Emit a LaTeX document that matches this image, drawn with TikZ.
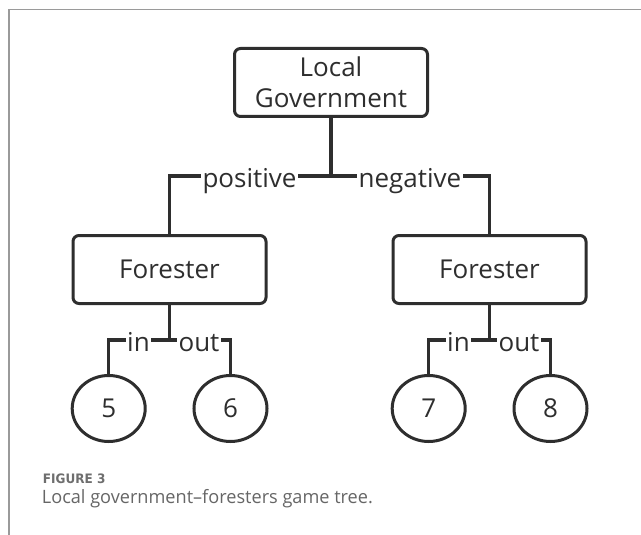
\documentclass[tikz,border=0pt]{standalone}
\usepackage{fontspec}
\usepackage{graphicx}
\setmainfont{Open Sans}
\newfontfamily\figfont{DejaVu Sans}
\usetikzlibrary{shapes.geometric}
\definecolor{ink}{HTML}{2E2E2E}
\definecolor{framegray}{HTML}{9A9A9A}
\definecolor{capgray}{HTML}{6E6E6E}
\definecolor{captext}{HTML}{666666}
\begin{document}
\begin{tikzpicture}[x=1pt,y=-1pt,
  box/.style={draw=ink, line width=3pt, rounded corners=6pt, minimum width=193pt, minimum height=68pt, align=center, text=ink, font=\fontsize{26}{31.3}\selectfont, inner sep=0pt},
  leaf/.style={draw=ink, line width=3pt, ellipse, minimum width=73pt, minimum height=66pt, inner sep=0pt, text=ink, font=\fontsize{26}{31}\selectfont},
  wire/.style={draw=ink, line width=3.3pt},
  lbl/.style={fill=white, inner sep=1.5pt, text=ink, font=\fontsize{26}{31}\selectfont, anchor=base},
  capA/.style={anchor=base west, inner sep=0pt, text=capgray},
  capB/.style={anchor=base west, inner sep=0pt, text=captext}
]
\useasboundingbox (0,0) rectangle (641,535);
\fill[white] (0,0) rectangle (641,535);
% frame
\draw[framegray, line width=1.8pt] (9,535) -- (9,9.5) -- (641,9.5);

% nodes
\node[box] (gov) at (331,82.5) {Local\\Government};
\node[box] (f1) at (169.5,269.5) {Forester};
\node[box] (f2) at (489.5,269.5) {Forester};
\node[leaf] (c5) at (108.7,408.5) {5};
\node[leaf] (c6) at (230.5,408.5) {6};
\node[leaf] (c7) at (428.7,408.5) {7};
\node[leaf] (c8) at (550.5,408.5) {8};

% junction levels
\coordinate (h1) at (0,176);
\coordinate (h2) at (0,340);
\coordinate (h3) at (0,340);

% connectors
\draw[wire] (gov.south) -- (gov.south |- h1);
\draw[wire] (f1.north) |- (f2.north |- h1) -- (f2.north);
\draw[wire] (f1.south) -- (f1.south |- h2);
\draw[wire] (c5.north) |- (c6.north |- h2) -- (c6.north);
\draw[wire] (f2.south) -- (f2.south |- h3);
\draw[wire] (c7.north) |- (c8.north |- h3) -- (c8.north);

% labels
\node[lbl] (lpos) at (249.5,187) {positive};
\node[lbl] (lneg) at (410,187) {negative};
\node[lbl] (lin1) at (138.5,351) {in};
\node[lbl] (lout1) at (199,351) {out};
\node[lbl] (lin2) at (458.5,351) {in};
\node[lbl] (lout2) at (519,351) {out};

% caption
\node[capA] (fig) at (42.7,483.5) {\resizebox{62.5pt}{\height}{\figfont\bfseries\fontsize{13}{15}\selectfont FIGURE 3}};
\node[capB] (cap) at (41.7,503) {\resizebox{331pt}{\height}{\fontsize{18.4}{21}\selectfont Local government–foresters game tree.}};
\end{tikzpicture}
\end{document}
